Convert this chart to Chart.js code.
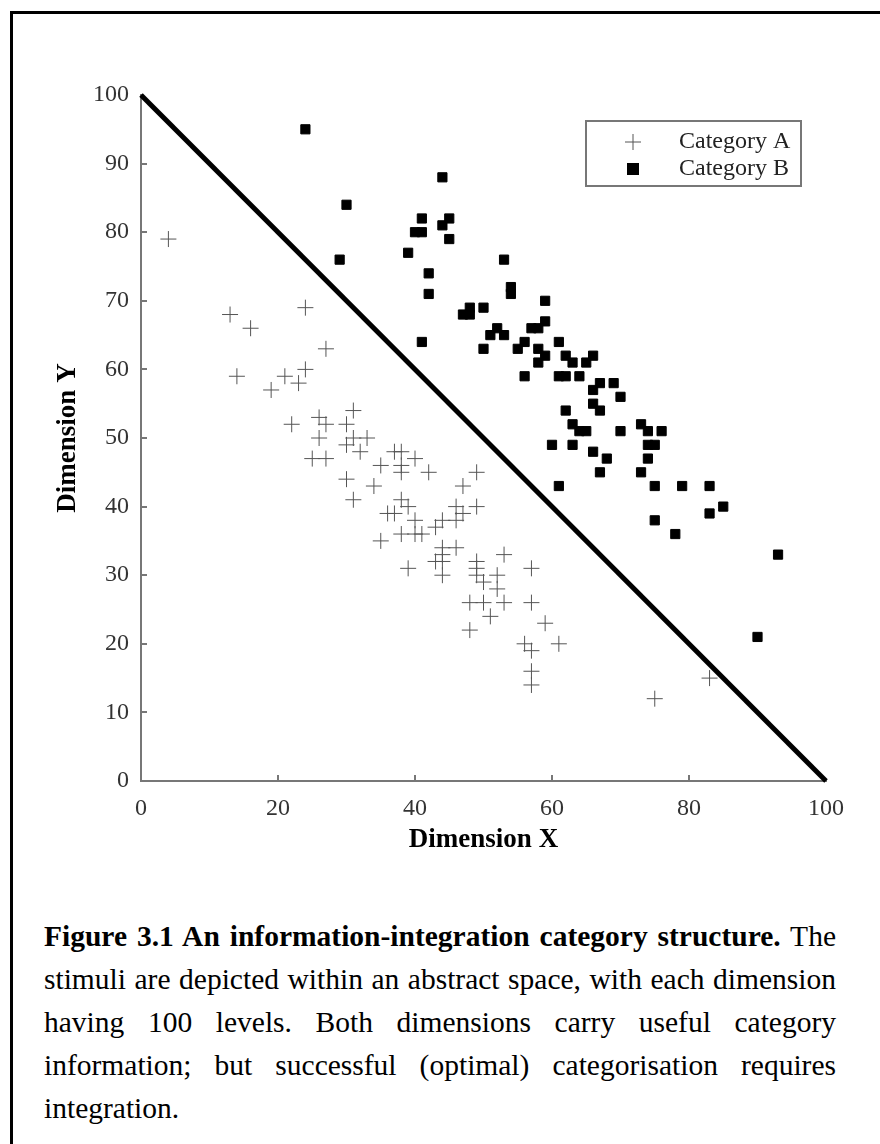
<!DOCTYPE html>
<html>
<head>
<meta charset="utf-8">
<script src="https://cdn.jsdelivr.net/npm/chart.js"></script>
<style>
  html, body { margin: 0; padding: 0; background: #fff; }
  body { width: 880px; height: 1144px; position: relative; overflow: hidden; }
  #frame { position: absolute; left: 10px; top: 11px; width: 900px; height: 1200px;
           border-left: 3px solid #000; border-top: 3px solid #000; }
  #wrap { position: absolute; left: 0; top: 0; width: 880px; height: 880px; }
  #caption { position: absolute; left: 44px; top: 915px; width: 792px;
             font-family: "Liberation Serif", "Times New Roman", serif; font-size: 29.5px;
             line-height: 43px; color: #000; }
  #caption div { text-align: justify; text-align-last: justify; white-space: nowrap; }
  #caption div.last { text-align-last: left; }
</style>
</head>
<body>
<div id="frame"></div>
<div id="wrap"><canvas id="myChart" width="880" height="880"></canvas></div>
<div id="caption">
  <div><b>Figure 3.1 An information-integration category structure.</b> The</div>
  <div>stimuli are depicted within an abstract space, with each dimension</div>
  <div>having 100 levels. Both dimensions carry useful category</div>
  <div>information; but successful (optimal) categorisation requires</div>
  <div class="last">integration.</div>
</div>
<script>
// Category A (crosses)
const catAX = [4, 13, 24, 16, 27, 14, 21, 24, 23, 19, 31, 22, 26, 27, 30, 26, 30, 31, 33, 32,
  25, 27, 37, 38, 40, 35, 38, 38, 42, 30, 34, 47, 49, 31, 38, 39, 36, 37, 40, 46,
  47, 46, 49, 44, 43, 38, 40, 41, 35, 44, 46, 44, 43, 44, 39, 44, 49, 49, 49, 50,
  48, 50, 51, 48, 53, 52, 52, 57, 53, 57, 59, 56, 57, 61, 57, 57, 83, 75];
const catAY = [79, 68, 69, 66, 63, 59, 59, 60, 58, 57, 54, 52, 53, 52, 52, 50, 49, 50, 50, 48,
  47, 47, 48, 48, 47, 46, 46, 45, 45, 44, 43, 43, 45, 41, 41, 40, 39, 39, 38, 40,
  39, 38, 40, 38, 37, 36, 36, 36, 35, 34, 34, 33, 32, 32, 31, 30, 32, 31, 30, 29,
  26, 26, 24, 22, 33, 30, 28, 31, 26, 26, 23, 20, 19, 20, 16, 14, 15, 12];

// Category B (squares)
const catBX = [24, 30, 44, 41, 45, 44, 40, 41, 45, 39, 29, 42, 42, 53, 54, 54, 59, 47, 48, 48,
  50, 59, 57, 58, 52, 51, 53, 41, 61, 50, 55, 56, 58, 59, 58, 62, 63, 65, 66, 56,
  61, 62, 64, 67, 69, 66, 70, 66, 67, 62, 63, 64, 65, 70, 73, 74, 76, 60, 63, 74,
  75, 66, 68, 74, 67, 73, 61, 75, 79, 83, 85, 83, 75, 78, 93, 90];
const catBY = [95, 84, 88, 82, 82, 81, 80, 80, 79, 77, 76, 74, 71, 76, 72, 71, 70, 68, 69, 68,
  69, 67, 66, 66, 66, 65, 65, 64, 64, 63, 63, 64, 63, 62, 61, 62, 61, 61, 62, 59,
  59, 59, 59, 58, 58, 57, 56, 55, 54, 54, 52, 51, 51, 51, 52, 51, 51, 49, 49, 49,
  49, 48, 47, 47, 45, 45, 43, 43, 43, 43, 40, 39, 38, 36, 33, 21];

// decision bound
const boundX = [0, 100];
const boundY = [100, 0];

const xTicks = [0, 20, 40, 60, 80, 100];
const yTicks = [0, 10, 20, 30, 40, 50, 60, 70, 80, 90, 100];

const labelA = "Category A";
const labelB = "Category B";

function toPoints(xs, ys) {
  return xs.map((x, i) => ({ x: x, y: ys[i] }));
}

const serif = "'Liberation Serif', 'Times New Roman', serif";
Chart.defaults.font.family = serif;

const crossColor = "#555";

// inward tick marks + legend box
const extras = {
  id: "extras",
  afterDraw(chart) {
    const ctx = chart.ctx;
    const xs = chart.scales.x, ys = chart.scales.y;
    const area = chart.chartArea;
    ctx.save();
    ctx.strokeStyle = "#777";
    ctx.lineWidth = 2;
    ctx.beginPath();
    yTicks.slice(1, -1).forEach(v => {
      const py = Math.round(ys.getPixelForValue(v));
      ctx.moveTo(area.left, py);
      ctx.lineTo(area.left + 6, py);
    });
    xTicks.slice(1, -1).forEach(v => {
      const px = Math.round(xs.getPixelForValue(v));
      ctx.moveTo(px, area.bottom);
      ctx.lineTo(px, area.bottom - 6);
    });
    ctx.stroke();

    // legend
    const bx = 586, by = 121, bw = 215, bh = 65;
    ctx.fillStyle = "#fff";
    ctx.fillRect(bx, by, bw, bh);
    ctx.strokeStyle = "#777";
    ctx.lineWidth = 2;
    ctx.strokeRect(bx, by, bw, bh);

    const mx = 633;
    ctx.strokeStyle = crossColor;
    ctx.lineWidth = 1;
    ctx.beginPath();
    ctx.moveTo(mx - 8, by + 21); ctx.lineTo(mx + 8, by + 21);
    ctx.moveTo(mx, by + 13); ctx.lineTo(mx, by + 29);
    ctx.stroke();
    ctx.fillStyle = "#000";
    ctx.fillRect(mx - 6, by + 42, 12, 12);

    ctx.font = "24px " + serif;
    ctx.fillStyle = "#222";
    ctx.textBaseline = "middle";
    ctx.textAlign = "left";
    ctx.fillText(labelA, 679, by + 21);
    ctx.fillText(labelB, 679, by + 48);
    ctx.restore();
  }
};

const ctx1 = document.getElementById("myChart").getContext("2d");
const myChart = new Chart(ctx1, {
  type: "scatter",
  data: {
    datasets: [
      {
        label: labelA,
        data: toPoints(catAX, catAY),
        pointStyle: "cross",
        pointRadius: 8,
        borderColor: crossColor,
        borderWidth: 1,
        backgroundColor: crossColor,
      },
      {
        label: labelB,
        data: toPoints(catBX, catBY),
        pointStyle: "rect",
        pointRadius: 6.5,
        borderColor: "#000",
        borderWidth: 1,
        backgroundColor: "#000",
      },
      {
        type: "line",
        label: "bound",
        data: toPoints(boundX, boundY),
        borderColor: "#000",
        borderWidth: 5,
        pointRadius: 0,
        fill: false,
        clip: false,
      },
    ],
  },
  options: {
    responsive: false,
    animation: false,
    events: [],
    layout: { padding: { left: 0, top: 95, right: 54, bottom: 19 } },
    plugins: {
      legend: { display: false },
      tooltip: { enabled: false },
    },
    scales: {
      x: {
        type: "linear",
        min: 0,
        max: 100,
        afterBuildTicks: (s) => { s.ticks = xTicks.map(v => ({ value: v })); },
        afterFit: (s) => { s.height = 80; },
        grid: { display: false, drawTicks: false },
        border: { display: true, color: "#777", width: 2 },
        ticks: { color: "#333", font: { size: 24 }, padding: 13, maxRotation: 0 },
        title: {
          display: true,
          text: "Dimension X",
          color: "#000",
          font: { size: 27, weight: "bold" },
          padding: { top: 0, bottom: 5 },
        },
      },
      y: {
        type: "linear",
        min: 0,
        max: 100,
        afterBuildTicks: (s) => { s.ticks = yTicks.map(v => ({ value: v })); },
        afterFit: (s) => { s.width = 141; },
        grid: { display: false, drawTicks: false },
        border: { display: true, color: "#777", width: 2 },
        ticks: { color: "#333", font: { size: 24 }, padding: 12 },
        title: {
          display: true,
          text: "Dimension Y",
          color: "#000",
          font: { size: 27, weight: "bold" },
          padding: { top: 52, bottom: 0 },
        },
      },
    },
  },
  plugins: [extras],
});
</script>
</body>
</html>
